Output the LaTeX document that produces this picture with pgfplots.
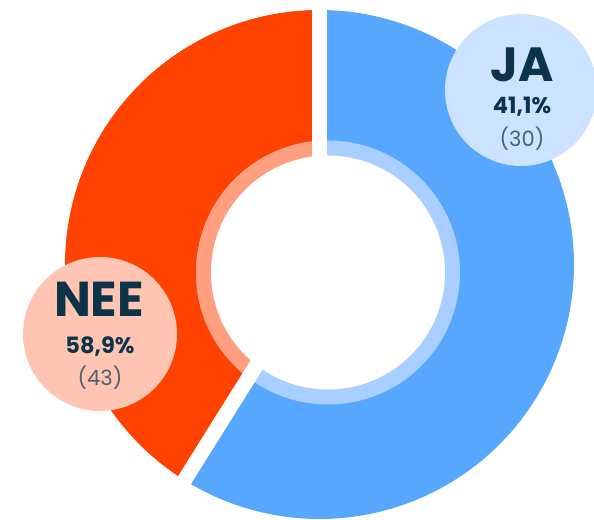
\documentclass[border=0pt]{standalone}
\usepackage{fontspec}
\setmainfont{Poppins}
\usepackage{pgfplots}
\pgfplotsset{compat=1.18}
\definecolor{cBlue}{HTML}{57A7FF}
\definecolor{cOrange}{HTML}{FF4200}
\definecolor{cRingB}{HTML}{A8CFFF}
\definecolor{cRingO}{HTML}{FF9F80}
\definecolor{cBubB}{HTML}{CCE3FF}
\definecolor{cBubO}{HTML}{FFC4B2}
\definecolor{cText}{HTML}{0D3349}
\definecolor{cCount}{HTML}{4A6272}
% data: segment sizes as drawn
\def\vBlue{43}
\def\vOrange{30}
\pgfmathsetmacro{\total}{\vBlue+\vOrange}
\pgfmathsetmacro{\splitA}{90-360*\vBlue/\total}
\pgfmathsetmacro{\splitB}{\splitA+360}
\begin{document}
\begin{tikzpicture}
\begin{axis}[
  scale only axis, width=594bp, height=520bp,
  xmin=0, xmax=594, ymin=0, ymax=520,
  axis lines=none, ticks=none,
  variable=\t, samples=240,
]
% outer wedges (centre 319.5,255.5 ; R 254.5)
\addplot[draw=none, fill=cBlue, domain=\splitA:90]
  ({319.5+254.5*cos(\t)},{255.5+254.5*sin(\t)}) -- (axis cs:319.5,255.5) -- cycle;
\addplot[draw=none, fill=cOrange, domain=90:\splitB]
  ({319.5+254.5*cos(\t)},{255.5+254.5*sin(\t)}) -- (axis cs:319.5,255.5) -- cycle;
% light inner ring (centre 328,247.5 ; r 132)
\addplot[draw=none, fill=cRingB, domain=0:360]
  ({328+132*cos(\t)},{247.5+132*sin(\t)}) -- cycle;
\addplot[draw=none, fill=cRingO, domain=93.69:232.96]
  ({328+132*cos(\t)},{247.5+132*sin(\t)}) -- (axis cs:319.5,255.5) -- cycle;
% hole
\addplot[draw=none, fill=white, domain=0:360]
  ({328+117*cos(\t)},{247.5+117*sin(\t)}) -- cycle;
% gaps
\addplot[white, line width=15bp, line cap=butt, samples=2, domain=0:1]
  ({319.5+256*\t*cos(90)},{255.5+256*\t*sin(90)});
\addplot[white, line width=15bp, line cap=butt, samples=2, domain=0:1]
  ({319.5+256*\t*cos(\splitA)},{255.5+256*\t*sin(\splitA)});
% bubbles
\addplot[draw=none, fill=cBubB, domain=0:360]
  ({521+76*cos(\t)},{430+76*sin(\t)}) -- cycle;
\addplot[draw=none, fill=cBubO, domain=0:360]
  ({100+77*cos(\t)},{186+77*sin(\t)}) -- cycle;
% labels
\node[anchor=base, text=cText, font=\fontsize{48bp}{52bp}\selectfont\bfseries] at (axis cs:522,438.3) {JA};
\node[anchor=base, text=cText, font=\fontsize{22.5bp}{26bp}\selectfont\bfseries] at (axis cs:522,406) {41,1\%};
\node[anchor=base, text=cCount, font=\fontsize{21bp}{25bp}\selectfont] at (axis cs:522,373.3) {(30)};
\node[anchor=base, text=cText, font=\fontsize{49bp}{52bp}\selectfont\bfseries] at (axis cs:99,203.3) {NEE};
\node[anchor=base, text=cText, font=\fontsize{22.5bp}{26bp}\selectfont\bfseries] at (axis cs:100,166.7) {58,9\%};
\node[anchor=base, text=cCount, font=\fontsize{21bp}{25bp}\selectfont] at (axis cs:100,134) {(43)};
\end{axis}
\pgfresetboundingbox
\path (current axis.south west) rectangle (current axis.north east);
\end{tikzpicture}
\end{document}
